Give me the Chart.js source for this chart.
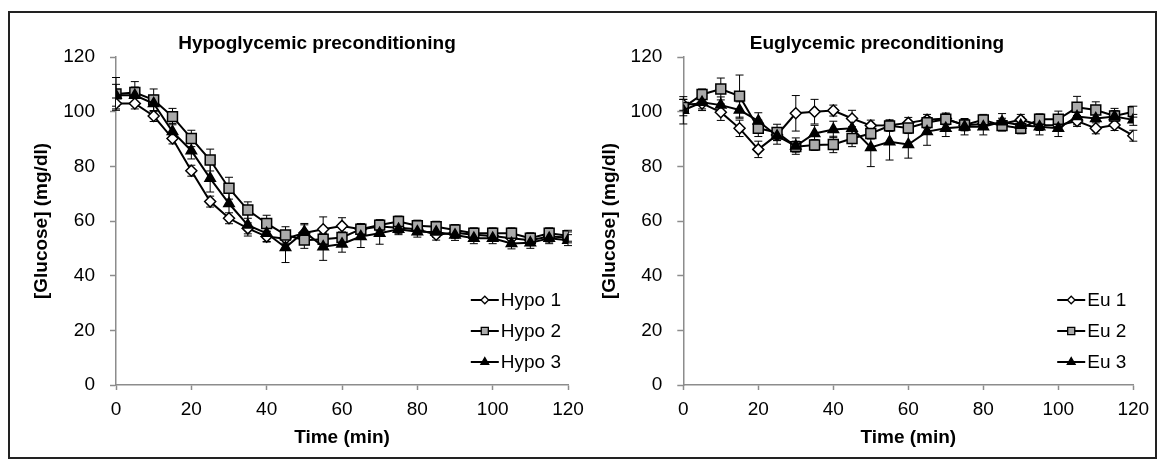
<!DOCTYPE html>
<html lang="en">
<head>
<meta charset="UTF-8">
<title>Glucose during preconditioning</title>
<script src="https://cdn.jsdelivr.net/npm/chart.js@4.4.0/dist/chart.umd.min.js"></script>
<style>
  body { margin: 0; background: #fff; }
  #wrap { position: relative; width: 1164px; height: 469px; }
  #frame { position: absolute; left: 8px; top: 11px; width: 1145px; height: 444px; border: 2px solid #222; }
  canvas { position: absolute; top: 0; }
  #left { left: 0; }
  #right { left: 580px; }
</style>
</head>
<body>
<div id="wrap">
  <div id="frame"></div>
  <canvas id="left" width="600" height="469" style="width:600px;height:469px"></canvas>
  <canvas id="right" width="584" height="469" style="width:584px;height:469px"></canvas>
</div>
<script>
// time points (min) and axis ticks
const times = [0, 5, 10, 15, 20, 25, 30, 35, 40, 45, 50, 55, 60, 65, 70, 75, 80, 85, 90, 95, 100, 105, 110, 115, 120];
const xTicks = [0, 20, 40, 60, 80, 100, 120];
const yTicks = [0, 20, 40, 60, 80, 100, 120];

// hypoglycemic preconditioning, glucose mg/dl
const hypo1 = [103, 103, 98.4, 90.2, 78.4, 67.1, 61, 57.3, 54.3, 53.5, 55.6, 57, 58.2, 57, 58, 57.5, 57, 55, 55.7, 55, 54.5, 53.7, 53, 54.3, 54];
const hypo2 = [106.5, 107, 104.3, 98.2, 90.2, 82.3, 72, 64, 59.1, 54.9, 53, 53.3, 54, 57, 58.5, 59.8, 58.3, 57.9, 56.7, 55.5, 55.5, 55.5, 53.7, 55.5, 54.6];
const hypo3 = [106, 106, 103, 92.7, 85.7, 75.6, 66.4, 58.5, 55.5, 50.3, 56.1, 50.6, 51.6, 54.3, 55.5, 57, 56.1, 56, 54.9, 53.7, 53.7, 51.8, 52, 53.7, 53];
const hypo1Err = [2, 2, 2, 2, 2, 2, 2, 2, 2, 2, 3, 4.5, 3, 2, 2, 2, 2, 2, 2, 2, 2, 2, 2, 2, 2];
const hypo2Err = [6, 4, 4, 3, 3, 4, 4, 3, 3, 3, 3, 2, 2, 2, 2, 2, 2, 2, 2, 2, 2, 2, 2, 2, 2];
const hypo3Err = [4, 3, 3, 3, 3, 5, 6, 4, 3, 5.5, 3, 5, 3, 4, 4, 2, 2, 2, 2, 2, 2, 2, 2, 2, 2];

// euglycemic preconditioning, glucose mg/dl
const eu1 = [102.5, 103, 99.8, 93.9, 86.2, 91.5, 99.4, 100, 100.4, 97.5, 94.9, 95, 95.9, 97, 97.5, 95, 95.5, 95.6, 97, 95.1, 95, 96.6, 93.9, 95.1, 91.2];
const eu2 = [101.5, 106.3, 108.3, 105.7, 93.9, 92.4, 87.2, 87.8, 88, 90.2, 92, 94.8, 94, 96, 97.2, 95.1, 97, 94.9, 93.9, 97.2, 97.2, 101.6, 100.6, 98.4, 100];
const eu3 = [100.5, 103.4, 102.4, 100.6, 96.6, 91.1, 87.4, 92, 93.5, 93.9, 86.9, 89, 88, 92.7, 93.9, 94.5, 94.5, 96.3, 95, 94.5, 93.9, 98.2, 97.5, 98.2, 97];
const eu1Err = [2, 2, 3, 3, 3, 2, 6.5, 4.5, 2, 3, 2, 2, 2, 2, 2, 2, 2, 2, 2, 2, 2, 2, 2, 2, 2];
const eu2Err = [3, 2, 4, 7.7, 3, 3, 2, 2, 3, 3, 2, 2, 2, 2, 2, 2, 2, 2, 2, 2, 3, 4, 3, 2, 2];
const eu3Err = [5, 3, 3, 3, 3, 3, 3, 3, 3, 3, 7, 6.7, 5, 5, 3, 3, 3, 3, 3, 3, 3, 3, 3, 3, 2];

const FONT = '"Liberation Sans", Arial, sans-serif';
const GRAY = '#8c8c8c';

const styles = [
  { pointStyle: 'rectRot', pointRadius: 5.5, pointBackgroundColor: '#fff', legendRadius: 3.8 },
  { pointStyle: 'rect', pointRadius: 7, pointBackgroundColor: '#aaaaaa', legendRadius: 5 },
  { pointStyle: 'triangle', pointRadius: 6, pointBackgroundColor: '#000', legendRadius: 4.5 }
];

function series(label, vals, errs, k) {
  return Object.assign({
    label: label,
    data: times.map((t, i) => ({ x: t, y: vals[i] })),
    errors: errs,
    borderColor: '#000',
    borderWidth: 2,
    pointBorderColor: '#000',
    pointBorderWidth: 1.5,
    pointHoverRadius: 7,
    tension: 0,
    order: 3 - k
  }, styles[k]);
}

// error bars, panel title and inner legend
const extras = {
  id: 'extras',
  beforeDatasetsDraw(chart) {
    const ctx = chart.ctx, xs = chart.scales.x, ys = chart.scales.y;
    ctx.save();
    ctx.strokeStyle = '#000';
    ctx.lineWidth = 1;
    chart.data.datasets.forEach(ds => {
      ds.data.forEach((p, i) => {
        const e = ds.errors[i];
        const px = xs.getPixelForValue(p.x);
        const top = ys.getPixelForValue(p.y + e);
        const bot = ys.getPixelForValue(p.y - e);
        ctx.beginPath();
        ctx.moveTo(px, top); ctx.lineTo(px, bot);
        ctx.moveTo(px - 4, top); ctx.lineTo(px + 4, top);
        ctx.moveTo(px - 4, bot); ctx.lineTo(px + 4, bot);
        ctx.stroke();
      });
    });
    ctx.restore();
  },
  afterDraw(chart, args, opts) {
    const ctx = chart.ctx, area = chart.chartArea;
    ctx.save();
    ctx.fillStyle = '#000';
    ctx.font = 'bold 19px ' + FONT;
    ctx.textAlign = 'center';
    ctx.textBaseline = 'middle';
    ctx.fillText(opts.title, opts.titleX, 44);

    ctx.font = '19px ' + FONT;
    ctx.textAlign = 'left';
    const dss = chart.data.datasets;
    const maxW = Math.max(...dss.map(d => ctx.measureText(d.label).width));
    const tx = area.right - 7 - maxW;
    const rows = [-85, -54, -23];
    dss.forEach((d, i) => {
      const y = area.bottom + rows[i];
      ctx.strokeStyle = '#000';
      ctx.lineWidth = 2;
      ctx.beginPath();
      ctx.moveTo(tx - 30, y); ctx.lineTo(tx - 2, y);
      ctx.stroke();
      ctx.fillStyle = d.pointBackgroundColor;
      ctx.lineWidth = 1.3;
      Chart.helpers.drawPoint(ctx, { pointStyle: d.pointStyle, radius: d.legendRadius, borderWidth: 1.3 }, tx - 16, y);
      ctx.fillStyle = '#000';
      ctx.fillText(d.label, tx, y + 1);
    });
    ctx.restore();
  }
};

function makeChart(id, datasets, title, titleX, yWidth, yTitlePad, padRight) {
  return new Chart(document.getElementById(id), {
    type: 'line',
    data: { datasets: datasets },
    plugins: [extras],
    options: {
      responsive: false,
      animation: false,
      layout: { padding: { top: 57, left: 0, right: padRight, bottom: 20 } },
      plugins: {
        legend: { display: false },
        tooltip: { enabled: false },
        extras: { title: title, titleX: titleX }
      },
      scales: {
        x: {
          type: 'linear', min: 0, max: 120,
          afterBuildTicks(s) { s.ticks = xTicks.map(v => ({ value: v })); },
          afterFit(s) { s.height = 64; },
          grid: { drawOnChartArea: false, drawTicks: true, tickLength: 5, tickColor: GRAY, tickWidth: 1.5 },
          border: { color: GRAY, width: 1.5 },
          ticks: { color: '#000', font: { size: 19, family: FONT }, padding: 8, maxRotation: 0 },
          title: { display: true, text: 'Time (min)', color: '#000', font: { size: 19, weight: 'bold', family: FONT }, padding: 0 }
        },
        y: {
          min: 0, max: 120,
          afterBuildTicks(s) { s.ticks = yTicks.map(v => ({ value: v })); },
          afterFit(s) { s.width = yWidth; },
          grid: { drawOnChartArea: false, drawTicks: true, tickLength: 6, tickColor: GRAY, tickWidth: 1.5 },
          border: { color: GRAY, width: 1.5 },
          ticks: { color: '#000', font: { size: 19, family: FONT }, padding: 15 },
          title: { display: true, text: '[Glucose] (mg/dl)', color: '#000', font: { size: 19, weight: 'bold', family: FONT }, padding: { top: yTitlePad, bottom: 0 } }
        }
      }
    }
  });
}

makeChart('left', [
  series('Hypo 1', hypo1, hypo1Err, 0),
  series('Hypo 2', hypo2, hypo2Err, 1),
  series('Hypo 3', hypo3, hypo3Err, 2)
], 'Hypoglycemic preconditioning', 317, 116, 30.6, 32);

makeChart('right', [
  series('Eu 1', eu1, eu1Err, 0),
  series('Eu 2', eu2, eu2Err, 1),
  series('Eu 3', eu3, eu3Err, 2)
], 'Euglycemic preconditioning', 297, 103.3, 18.6, 30.7);
</script>
</body>
</html>
